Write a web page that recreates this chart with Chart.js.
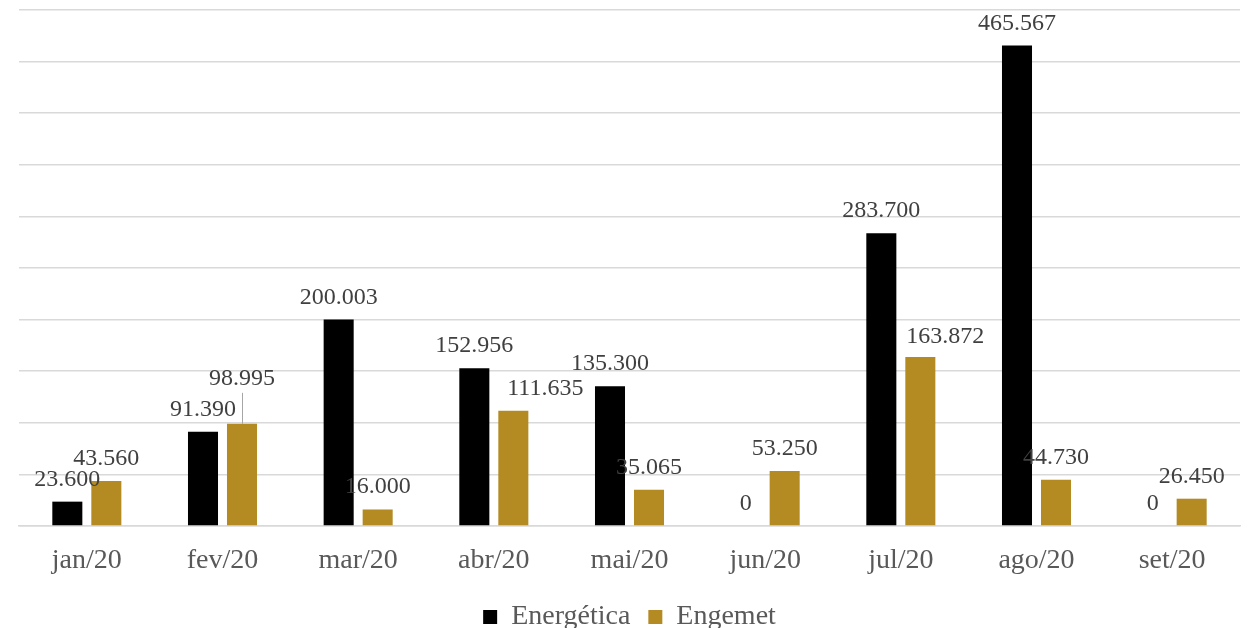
<!DOCTYPE html>
<html>
<head>
<meta charset="utf-8">
<script src="https://cdn.jsdelivr.net/npm/chart.js@4"></script>
<style>
  html, body { margin: 0; padding: 0; background: #fff; overflow: hidden; }
  #wrap { width: 1253px; height: 641px; position: relative; }
</style>
</head>
<body>
<div id="wrap"><canvas id="c"></canvas></div>
<script>
const categories = ['jan/20', 'fev/20', 'mar/20', 'abr/20', 'mai/20', 'jun/20', 'jul/20', 'ago/20', 'set/20'];
const energetica = [23600, 91390, 200003, 152956, 135300, 0, 283700, 465567, 0];
const engemet = [43560, 98995, 16000, 111635, 35065, 53250, 163872, 44730, 26450];
const yMin = 0, yMax = 500000, yStep = 50000;

// manual label nudges (dataset-index) -> [dx, dyUp, leaderLine]
const labelNudges = {
  '1-1': [0, 23, true],
  '1-3': [32, 0, false],
  '1-6': [25, -2, false]
};

function fmt(v) {
  return String(v).replace(/\B(?=(\d{3})+(?!\d))/g, '.');
}

const FONT = "'Liberation Serif', 'Times New Roman', serif";

const labelPlugin = {
  id: 'barLabels',
  afterDatasetsDraw(chart) {
    const ctx = chart.ctx;
    ctx.save();
    ctx.font = '24px ' + FONT;
    ctx.textAlign = 'center';
    ctx.textBaseline = 'alphabetic';
    chart.data.datasets.forEach((ds, di) => {
      const meta = chart.getDatasetMeta(di);
      meta.data.forEach((el, i) => {
        const n = labelNudges[di + '-' + i] || [0, 0, false];
        const x = el.x + n[0];
        const y = el.y - 16 - n[1];
        if (n[2]) {
          ctx.strokeStyle = '#a6a6a6';
          ctx.lineWidth = 1;
          ctx.beginPath();
          ctx.moveTo(Math.round(el.x) + 0.5, y + 8);
          ctx.lineTo(Math.round(el.x) + 0.5, el.y);
          ctx.stroke();
        }
        ctx.fillStyle = '#404040';
        ctx.fillText(fmt(ds.data[i]), x, y);
      });
    });
    ctx.restore();
  }
};

new Chart(document.getElementById('c'), {
  type: 'bar',
  data: {
    labels: categories,
    datasets: [
      { label: 'Energética', data: energetica, backgroundColor: '#000000', categoryPercentage: 0.575, barPercentage: 0.77 },
      { label: 'Engemet', data: engemet, backgroundColor: '#b48a22', categoryPercentage: 0.575, barPercentage: 0.77 }
    ]
  },
  options: {
    responsive: true,
    maintainAspectRatio: false,
    animation: false,
    devicePixelRatio: 1,
    layout: { padding: { top: 10, left: 19, right: 13, bottom: 0 } },
    plugins: {
      legend: {
        position: 'bottom',
        labels: {
          boxWidth: 14,
          boxHeight: 14,
          padding: 18,
          color: '#595959',
          font: { family: FONT, size: 28 }
        }
      },
      tooltip: { enabled: false }
    },
    scales: {
      x: {
        grid: { display: false, drawTicks: false },
        border: { display: true, color: '#d9d9d9', width: 1.5 },
        ticks: { color: '#595959', font: { family: FONT, size: 28 }, padding: 18 },
        afterFit(scale) { scale.height = 59; }
      },
      y: {
        min: yMin, max: yMax,
        ticks: { display: false, stepSize: yStep },
        grid: { color: '#d9d9d9', lineWidth: 1.5, drawTicks: false },
        border: { display: false }
      }
    }
  },
  plugins: [labelPlugin]
});
</script>
</body>
</html>
